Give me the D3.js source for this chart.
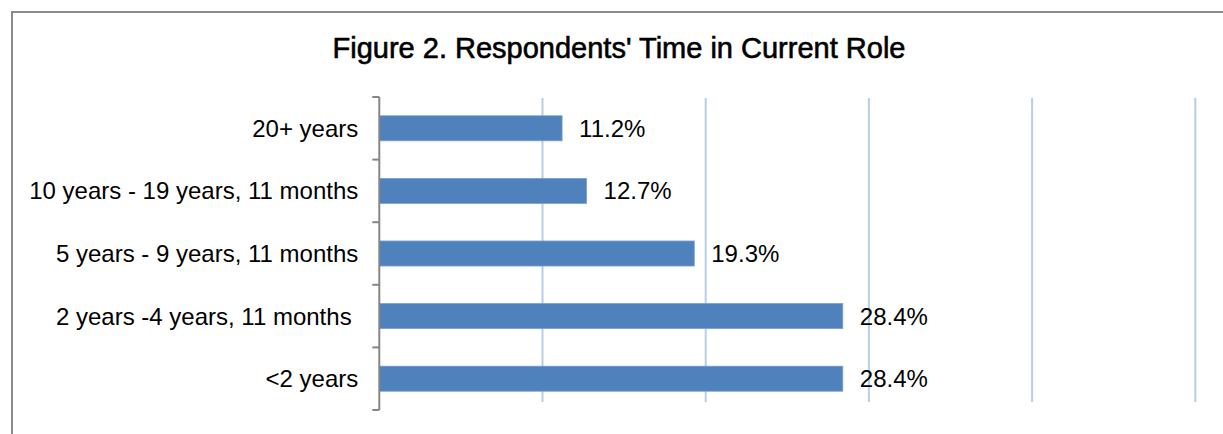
<!DOCTYPE html>
<html>
<head>
<meta charset="utf-8">
<script src="https://cdn.jsdelivr.net/npm/d3@7"></script>
<style>
  html, body { margin: 0; padding: 0; background: #fff; }
  svg { display: block; }
  text { font-family: "Liberation Sans", Arial, sans-serif; fill: #000; }
</style>
</head>
<body>
<svg id="chart" width="1223" height="434"></svg>
<script>
const titleText = "Figure 2. Respondents' Time in Current Role";
const categories = ["20+ years", "10 years - 19 years, 11 months", "5 years - 9 years, 11 months", "2 years -4 years, 11 months ", "<2 years"];
const values = [11.2, 12.7, 19.3, 28.4, 28.4];
const xTicks = [0, 10, 20, 30, 40, 50];

const svg = d3.select("#chart");
const W = 1223, H = 434;
const plot = { left: 379.3, right: 1195.3, top: 97, bottom: 410 };

// outer border
svg.append("path")
  .attr("d", `M12,${H + 2} L12,12 L${W + 2},12`)
  .attr("fill", "none").attr("stroke", "#8c8c8c").attr("stroke-width", 2);

// title
svg.append("text")
  .attr("x", 619).attr("y", 58)
  .attr("text-anchor", "middle")
  .attr("font-size", 29)
  .attr("stroke", "#000").attr("stroke-width", 0.6)
  .text(titleText);

const x = d3.scaleLinear().domain([0, 50]).range([plot.left, plot.right]);
const y = d3.scaleBand().domain(categories).range([plot.top, plot.bottom]).paddingInner(0.6).paddingOuter(0.3);
const yb = d3.scaleBand().domain(categories).range([plot.top, plot.bottom]);

// gridlines
svg.append("g").selectAll("line")
  .data(xTicks.filter(t => t > 0))
  .join("line")
  .attr("x1", d => x(d)).attr("x2", d => x(d))
  .attr("y1", plot.top + 1).attr("y2", plot.bottom - 8)
  .attr("stroke", "#b9cde5").attr("stroke-width", 2);

// bars
svg.append("g").selectAll("rect")
  .data(values)
  .join("rect")
  .attr("x", x(0))
  .attr("y", (d, i) => y(categories[i]))
  .attr("width", d => x(d) - x(0))
  .attr("height", y.bandwidth())
  .attr("fill", "#4f81bd")
  .attr("stroke", "#7a9fd0").attr("stroke-width", 0.8);

// value labels
svg.append("g").selectAll("text")
  .data(values)
  .join("text")
  .attr("x", d => x(d) + 17)
  .attr("y", (d, i) => y(categories[i]) + y.bandwidth() / 2)
  .attr("dy", "0.35em")
  .attr("font-size", 24)
  .text(d => d.toFixed(1) + "%");

// y axis
const gAxis = svg.append("g").attr("transform", `translate(${plot.left},0)`);
gAxis.append("line")
  .attr("x1", 0).attr("x2", 0).attr("y1", plot.top).attr("y2", plot.bottom)
  .attr("stroke", "#868686").attr("stroke-width", 2);
const bounds = categories.map(c => yb(c)).concat([plot.bottom]);
gAxis.selectAll("line.tick")
  .data(bounds)
  .join("line").attr("class", "tick")
  .attr("x1", -7).attr("x2", 0)
  .attr("y1", d => d).attr("y2", d => d)
  .attr("stroke", "#868686").attr("stroke-width", 2);

// category labels
svg.append("g").selectAll("text")
  .data(categories)
  .join("text")
  .attr("x", plot.left - 21)
  .attr("y", d => yb(d) + yb.bandwidth() / 2)
  .attr("dy", "0.35em")
  .attr("text-anchor", "end")
  .attr("font-size", 24)
  .style("white-space", "pre")
  .text(d => d);
</script>
</body>
</html>
